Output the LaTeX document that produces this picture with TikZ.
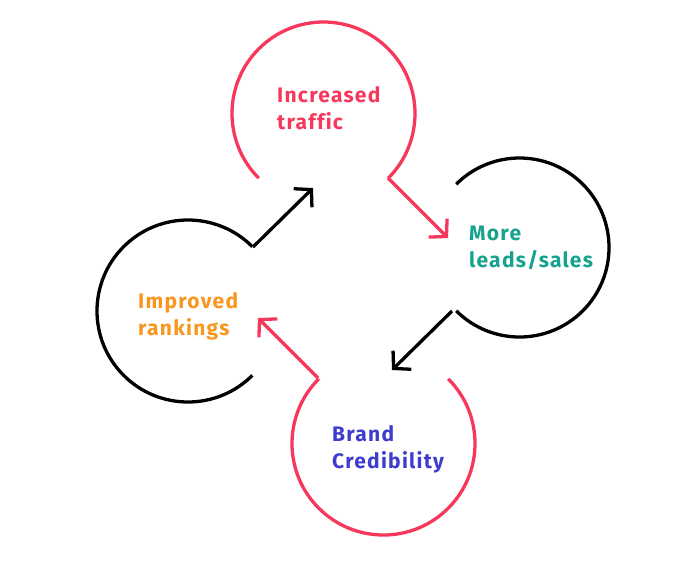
\documentclass[tikz,border=0pt]{standalone}
\usepackage{fontspec}
\setmainfont{Fira Sans}[LetterSpace=6,Ligatures={NoCommon}]
\usetikzlibrary{arrows.meta}
\definecolor{cred}{RGB}{246,56,92}
\definecolor{cteal}{RGB}{22,162,142}
\definecolor{corange}{RGB}{248,150,30}
\definecolor{cblue}{RGB}{62,60,206}
\tikzset{
  ring/.style={line width=3.3pt},
  flow/.style={line width=3.3pt, -{Straight Barb[length=12pt,width=26pt,line cap=butt]}},
  label/.style={font=\fontsize{21}{27}\selectfont\bfseries, align=left, anchor=base west, inner sep=0pt}
}
\begin{document}
\begin{tikzpicture}[x=1pt,y=-1pt]
\useasboundingbox (0,0) rectangle (700,563);
% rings
\draw[ring,cred] (323.5,113.5) ++(135:91.5) arc[start angle=135,end angle=405,radius=91.5];
\draw[ring,black] (519.5,247.5) ++(225:89.5) arc[start angle=225,end angle=495,radius=89.5];
\draw[ring,cred] (383.5,443.5) ++(315:91.5) arc[start angle=315,end angle=585,radius=91.5];
\draw[ring,black] (188,311) ++(45:91) arc[start angle=45,end angle=315,radius=91];
% connector coordinates
\coordinate (t1) at (388,178);
\coordinate (h1) at (448,238);
\coordinate (t2) at (452,311);
\coordinate (h2) at (392,370);
\coordinate (t3) at (318,378);
\coordinate (h3) at (258,318);
\coordinate (t4) at (253,247);
\coordinate (h4) at (313,188);
\draw[flow,cred] (t1) -- (h1);
\draw[flow,black] (t2) -- (h2);
\draw[flow,cred] (t3) -- (h3);
\draw[flow,black] (t4) -- (h4);
% labels
\node[label,text=cred] (traffic) at (277,129) {Increased\\traffic};
\node[label,text=cteal] (leads) at (469,267) {More\\leads/sales};
\node[label,text=corange] (rank) at (138,335) {Improved\\rankings};
\node[label,text=cblue] (brand) at (332,468) {Brand\\Credibility};
\end{tikzpicture}
\end{document}
